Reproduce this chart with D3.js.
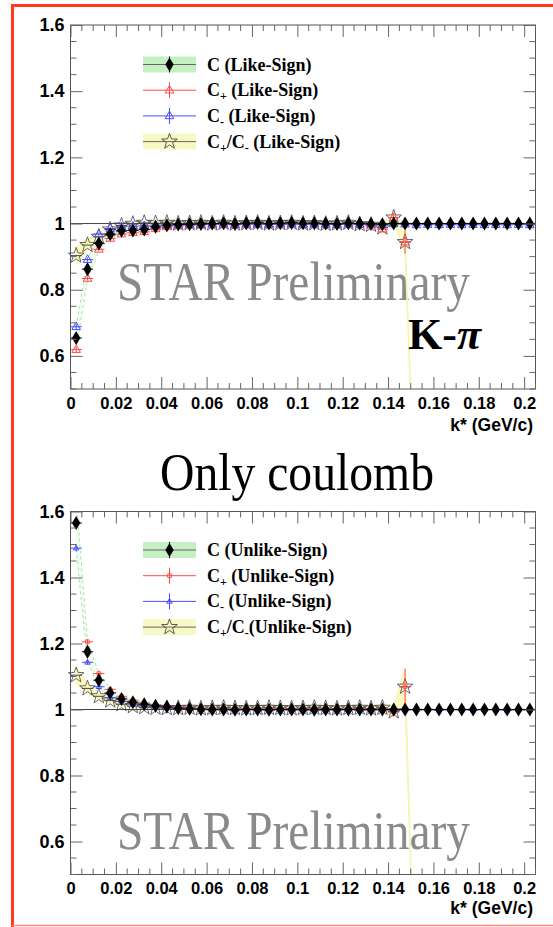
<!DOCTYPE html>
<html>
<head>
<meta charset="utf-8">
<script src="https://cdn.jsdelivr.net/npm/d3@7"></script>
<style>
  body { margin: 0; background: #fff; }
</style>
</head>
<body>
<div id="chart"></div>
<script>
// bin centres of k* (GeV/c), bin width 0.005
var kStar = [0.0025, 0.0075, 0.0125, 0.0175, 0.0225, 0.0275, 0.0325, 0.0375, 0.0425, 0.0475,
  0.0525, 0.0575, 0.0625, 0.0675, 0.0725, 0.0775, 0.0825, 0.0875, 0.0925, 0.0975,
  0.1025, 0.1075, 0.1125, 0.1175, 0.1225, 0.1275, 0.1325, 0.1375, 0.1425, 0.1475,
  0.1525, 0.1575, 0.1625, 0.1675, 0.1725, 0.1775, 0.1825, 0.1875, 0.1925, 0.1975, 0.2025];
var binHalf = 0.0025;

// ---- Like-Sign (top) ----
var likeC = [0.654, 0.862, 0.940, 0.968, 0.978, 0.979, 0.982, 0.990, 0.995, 0.997,
  0.998, 0.999, 1.000, 1.001, 0.999, 1.001, 1.002, 1.000, 1.001, 1.002,
  1.001, 1.001, 1.000, 0.999, 1.001, 1.000, 0.999, 0.998, 1.000, 1.000,
  1.000, 1.000, 1.000, 1.000, 1.000, 1.000, 1.000, 1.000, 1.000, 1.000, 1.000];
var likeCErr = [0.035, 0.030, 0.022, 0.014, 0.010, 0.009, 0.007, 0.005, 0.004, 0.003,
  0.003, 0.003, 0.003, 0.003, 0.003, 0.003, 0.003, 0.003, 0.003, 0.003,
  0.003, 0.003, 0.003, 0.003, 0.003, 0.003, 0.003, 0.004, 0.004, 0.004,
  0.002, 0.002, 0.002, 0.002, 0.002, 0.002, 0.002, 0.002, 0.002, 0.002, 0.002];
var likeCp = [0.619, 0.834, 0.922, 0.955, 0.968, 0.972, 0.975, 0.984, 0.990, 0.993,
  0.995, 0.996, 0.997, 0.998, 0.996, 0.998, 0.999, 0.998, 0.999, 0.999,
  0.998, 0.999, 0.998, 0.997, 0.999, 0.997, 0.995, 0.983, 1.018, 0.944];
var likeCpErr = [0.008, 0.006, 0.005, 0.004, 0.004, 0.003, 0.003, 0.003, 0.003, 0.003,
  0.003, 0.003, 0.003, 0.003, 0.003, 0.003, 0.003, 0.003, 0.003, 0.003,
  0.003, 0.003, 0.003, 0.003, 0.004, 0.004, 0.005, 0.007, 0.010, 0.035];
var likeCm = [0.688, 0.891, 0.968, 0.985, 0.990, 0.992, 0.993, 0.995, 0.996, 0.996,
  0.997, 0.997, 0.998, 0.998, 0.997, 0.998, 0.998, 0.997, 0.998, 0.998,
  0.997, 0.998, 0.997, 0.997, 0.998, 0.997, 0.998, 0.996, 0.999, 0.998,
  0.996, 0.997, 0.996, 0.997, 0.996, 0.997, 0.996, 0.997, 0.996, 0.997, 0.996];
var likeCmErr = [0.008, 0.006, 0.005, 0.004, 0.004, 0.003, 0.003, 0.003, 0.003, 0.003,
  0.003, 0.003, 0.003, 0.003, 0.003, 0.003, 0.003, 0.003, 0.003, 0.003,
  0.003, 0.003, 0.003, 0.003, 0.003, 0.003, 0.003, 0.003, 0.003, 0.003,
  0.003, 0.003, 0.003, 0.003, 0.003, 0.003, 0.003, 0.003, 0.003, 0.003, 0.003];
var likeRatio = [0.903, 0.935, 0.960, 0.982, 0.994, 0.999, 1.002, 1.001, 1.002, 1.000,
  1.001, 1.002, 1.000, 1.002, 1.000, 1.001, 1.002, 1.000, 1.001, 1.002,
  1.000, 1.001, 0.999, 1.000, 1.002, 0.998, 0.996, 0.988, 1.018, 0.944, 0];
var likeRatioErr = [0.025, 0.018, 0.012, 0.008, 0.006, 0.005, 0.004, 0.004, 0.004, 0.004,
  0.004, 0.004, 0.004, 0.004, 0.004, 0.004, 0.004, 0.004, 0.004, 0.004,
  0.004, 0.004, 0.004, 0.004, 0.005, 0.005, 0.006, 0.008, 0.012, 0.035, 0];

// ---- Unlike-Sign (bottom) ----
var unlikeC = [1.565, 1.175, 1.089, 1.050, 1.032, 1.022, 1.016, 1.011, 1.008, 1.004,
  1.002, 1.001, 1.000, 1.000, 0.999, 1.000, 1.000, 0.999, 1.000, 1.000,
  1.000, 0.999, 1.000, 1.000, 1.000, 1.000, 1.000, 1.000, 1.000, 1.000,
  1.000, 1.000, 1.000, 1.000, 1.000, 1.000, 1.000, 1.000, 1.000, 1.000, 1.000];
var unlikeCErr = [0.080, 0.031, 0.020, 0.014, 0.010, 0.007, 0.005, 0.004, 0.003, 0.003,
  0.003, 0.003, 0.003, 0.003, 0.003, 0.003, 0.003, 0.003, 0.003, 0.003,
  0.003, 0.003, 0.003, 0.003, 0.003, 0.003, 0.003, 0.003, 0.004, 0.004,
  0.002, 0.002, 0.002, 0.002, 0.002, 0.002, 0.002, 0.002, 0.002, 0.002, 0.002];
var unlikeCp = [1.645, 1.205, 1.109, 1.061, 1.040, 1.028, 1.020, 1.014, 1.010, 1.007,
  1.005, 1.004, 1.003, 1.003, 1.002, 1.003, 1.002, 1.002, 1.003, 1.002,
  1.002, 1.003, 1.002, 1.002, 1.003, 1.002, 1.001, 1.004, 0.992, 1.069];
var unlikeCpErr = [0.012, 0.008, 0.006, 0.005, 0.004, 0.004, 0.003, 0.003, 0.003, 0.003,
  0.003, 0.003, 0.003, 0.003, 0.003, 0.003, 0.003, 0.003, 0.003, 0.003,
  0.003, 0.003, 0.003, 0.003, 0.004, 0.004, 0.006, 0.008, 0.012, 0.055];
var unlikeCm = [1.489, 1.143, 1.069, 1.036, 1.025, 1.016, 1.011, 1.008, 1.005, 1.003,
  1.001, 1.000, 0.999, 0.999, 0.998, 0.999, 0.998, 0.998, 0.999, 0.998,
  0.998, 0.999, 0.998, 0.998, 0.999, 0.998, 0.998, 0.999, 0.998, 0.999,
  0.999, 0.999, 0.998, 0.999, 0.999, 0.998, 0.999, 0.999, 0.998, 0.999, 0.999];
var unlikeCmErr = [0.010, 0.007, 0.005, 0.004, 0.004, 0.003, 0.003, 0.003, 0.003, 0.003,
  0.003, 0.003, 0.003, 0.003, 0.003, 0.003, 0.003, 0.003, 0.003, 0.003,
  0.003, 0.003, 0.003, 0.003, 0.003, 0.003, 0.003, 0.003, 0.003, 0.003,
  0.003, 0.003, 0.003, 0.003, 0.003, 0.003, 0.003, 0.003, 0.003, 0.003, 0.003];
var unlikeRatio = [1.104, 1.064, 1.040, 1.027, 1.016, 1.010, 1.007, 1.005, 1.004, 1.004,
  1.005, 1.003, 1.004, 1.005, 1.004, 1.003, 1.004, 1.005, 1.004, 1.003,
  1.004, 1.005, 1.004, 1.003, 1.004, 1.005, 1.003, 1.005, 0.994, 1.069, 0];
var unlikeRatioErr = [0.025, 0.015, 0.010, 0.008, 0.006, 0.005, 0.004, 0.004, 0.004, 0.004,
  0.004, 0.004, 0.004, 0.004, 0.004, 0.004, 0.004, 0.004, 0.004, 0.004,
  0.004, 0.004, 0.004, 0.004, 0.005, 0.005, 0.006, 0.010, 0.015, 0.055, 0];

var width = 553, height = 927;
var svg = d3.select("#chart").append("svg")
  .attr("width", width)
  .attr("height", height)
  .style("display", "block");

// red slide frame
svg.append("path")
  .attr("d", "M12.5,927V5.5H560")
  .attr("fill", "none")
  .attr("stroke", "#ff3a1a")
  .attr("stroke-width", 3);
svg.append("line")
  .attr("x1", 12).attr("x2", 553).attr("y1", 925.5).attr("y2", 925.5)
  .attr("stroke", "#ff8a7a").attr("stroke-width", 1.5);

var x = d3.scaleLinear().domain([0, 0.205]).range([70.5, 535.5]);

// marker shapes
function starPath(R, r) {
  var p = [];
  for (var i = 0; i < 10; i++) {
    var a = -Math.PI / 2 + i * Math.PI / 5;
    var rad = i % 2 === 0 ? R : r;
    p.push([rad * Math.cos(a), rad * Math.sin(a)]);
  }
  return "M" + p.map(function(d) { return d[0].toFixed(2) + "," + d[1].toFixed(2); }).join("L") + "Z";
}
var diamond = "M0,-7L4.2,0L0,7L-4.2,0Z";
var triBig = "M0,-4.8L4.3,2.8L-4.3,2.8Z";
var triSmall = "M0,-3L2.7,1.8L-2.7,1.8Z";
var circSmall = d3.symbol().type(d3.symbolCircle).size(16)();
var star = starPath(8.2, 3.3);

var red = "#ff4a4a", blue = "#4a4aff";
var serif = "'Liberation Serif', 'DejaVu Serif', serif";
var axisFont = "'Liberation Sans', Arial, sans-serif";

var panels = [
  { id: "like", top: 25, bottom: 389, sign: "Like-Sign", ratioSep: " ",
    c: likeC, cErr: likeCErr, cp: likeCp, cpErr: likeCpErr, cm: likeCm, cmErr: likeCmErr,
    ratio: likeRatio, ratioErr: likeRatioErr,
    cpMarker: triBig, cmMarker: triBig, legendY: 64.5, prelimY: 300, titleY: 431 },
  { id: "unlike", top: 511.5, bottom: 874.5, sign: "Unlike-Sign", ratioSep: "",
    c: unlikeC, cErr: unlikeCErr, cp: unlikeCp, cpErr: unlikeCpErr, cm: unlikeCm, cmErr: unlikeCmErr,
    ratio: unlikeRatio, ratioErr: unlikeRatioErr,
    cpMarker: circSmall, cmMarker: triSmall, legendY: 550, prelimY: 849, titleY: 914 }
];

panels.forEach(function(p) {
  var y = d3.scaleLinear().domain([0.5, 1.6]).range([p.bottom, p.top]);
  var g = svg.append("g");

  g.append("clipPath").attr("id", "clip-" + p.id)
    .append("rect")
    .attr("x", x.range()[0]).attr("y", p.top)
    .attr("width", x.range()[1] - x.range()[0])
    .attr("height", p.bottom - p.top);

  var inside = function(v) { return v >= 0.5 && v <= 1.6; };

  // STAR Preliminary watermark
  g.append("text")
    .attr("x", 117).attr("y", p.prelimY)
    .attr("textLength", 353).attr("lengthAdjust", "spacingAndGlyphs")
    .style("font-family", serif)
    .style("font-size", "55px")
    .style("fill", "#8a8a8a")
    .text("STAR Preliminary");

  var plot = g.append("g").attr("clip-path", "url(#clip-" + p.id + ")");

  // C band (green)
  var cPts = kStar.map(function(k, i) { return { k: k, v: p.c[i], e: p.cErr[i] }; });
  plot.append("path")
    .datum(cPts)
    .attr("fill", "#9be89b").attr("fill-opacity", 0.15)
    .attr("d", d3.area()
      .x(function(d) { return x(d.k); })
      .y0(function(d) { return y(d.v - d.e); })
      .y1(function(d) { return y(d.v + d.e); }));
  [-1, 1].forEach(function(s) {
    plot.append("path")
      .datum(cPts)
      .attr("fill", "none").attr("stroke", "#a8e4a8").attr("stroke-width", 1)
      .attr("stroke-dasharray", "3,3")
      .attr("d", d3.line()
        .x(function(d) { return x(d.k); })
        .y(function(d) { return y(d.v + s * d.e); }));
  });

  // ratio band (yellow)
  var rPts = p.ratio.map(function(v, i) { return { k: kStar[i], v: v, e: p.ratioErr[i] }; });
  plot.append("path")
    .datum(rPts)
    .attr("fill", "#fbf8a8").attr("fill-opacity", 0.75)
    .attr("stroke", "#f6f2b0").attr("stroke-width", 1)
    .attr("d", d3.area()
      .x(function(d) { return x(d.k); })
      .y0(function(d) { return y(d.v - d.e); })
      .y1(function(d) { return y(d.v + d.e); }));

  // reference line at 1
  g.append("line")
    .attr("x1", x.range()[0]).attr("x2", x.range()[1])
    .attr("y1", y(1)).attr("y2", y(1))
    .attr("stroke", "#444").attr("stroke-width", 1);

  function drawSeries(vals, errs, color, marker, fill, sw, vbars) {
    var pts = vals.map(function(v, i) { return { k: kStar[i], v: v, e: errs ? errs[i] : 0 }; })
      .filter(function(d) { return inside(d.v); });
    var sg = g.append("g");
    sg.selectAll("line.h").data(pts).enter().append("line")
      .attr("x1", function(d) { return x(d.k - binHalf); })
      .attr("x2", function(d) { return x(d.k + binHalf); })
      .attr("y1", function(d) { return y(d.v); })
      .attr("y2", function(d) { return y(d.v); })
      .attr("stroke", color).attr("stroke-width", 1);
    if (vbars) {
      sg.selectAll("line.v").data(pts).enter().append("line")
        .attr("x1", function(d) { return x(d.k); })
        .attr("x2", function(d) { return x(d.k); })
        .attr("y1", function(d) { return y(d.v - d.e); })
        .attr("y2", function(d) { return y(d.v + d.e); })
        .attr("stroke", color).attr("stroke-width", 1);
    }
    sg.selectAll("path").data(pts).enter().append("path")
      .attr("d", marker)
      .attr("transform", function(d) { return "translate(" + x(d.k) + "," + y(d.v) + ")"; })
      .attr("fill", fill)
      .attr("stroke", fill === "none" ? color : "none")
      .attr("stroke-width", sw);
  }

  drawSeries(p.ratio, p.ratioErr, "#444", star, "none", 0.8, false);
  drawSeries(p.cp, p.cpErr, red, p.cpMarker, "none", 1, true);
  drawSeries(p.cm, p.cmErr, blue, p.cmMarker, "none", 1, true);
  drawSeries(p.c, null, "#000", diamond, "#000", 0, false);

  // frame
  g.append("rect")
    .attr("x", x.range()[0]).attr("y", p.top)
    .attr("width", x.range()[1] - x.range()[0])
    .attr("height", p.bottom - p.top)
    .attr("fill", "none").attr("stroke", "#555").attr("stroke-width", 1);

  // axes with ROOT style inner ticks
  var xMajor = x.ticks(10);
  var xMinor = x.ticks(40).filter(function(t) { return xMajor.indexOf(t) < 0; });
  var yMajor = y.ticks(6);
  var yMinor = y.ticks(22).filter(function(t) { return yMajor.indexOf(t) < 0; });

  var xb = g.append("g").attr("transform", "translate(0," + p.bottom + ")")
    .call(d3.axisBottom(x).tickValues(xMajor).tickSize(-12).tickPadding(8)
      .tickFormat(function(d) { return String(+d.toFixed(3)); }));
  xb.append("g").selectAll("line").data(xMinor).enter().append("line")
    .attr("x1", function(d) { return x(d); }).attr("x2", function(d) { return x(d); })
    .attr("y1", 0).attr("y2", -6);
  var xt = g.append("g").attr("transform", "translate(0," + p.top + ")")
    .call(d3.axisTop(x).tickValues(xMajor).tickSize(-12).tickFormat(""));
  xt.append("g").selectAll("line").data(xMinor).enter().append("line")
    .attr("x1", function(d) { return x(d); }).attr("x2", function(d) { return x(d); })
    .attr("y1", 0).attr("y2", 6);

  var yl = g.append("g").attr("transform", "translate(" + x.range()[0] + ",0)")
    .call(d3.axisLeft(y).tickValues(yMajor).tickSize(-12).tickPadding(6)
      .tickFormat(function(d) { return String(+d.toFixed(2)); }));
  yl.append("g").selectAll("line").data(yMinor).enter().append("line")
    .attr("y1", function(d) { return y(d); }).attr("y2", function(d) { return y(d); })
    .attr("x1", 0).attr("x2", 6);
  var yr = g.append("g").attr("transform", "translate(" + x.range()[1] + ",0)")
    .call(d3.axisRight(y).tickValues(yMajor).tickSize(-12).tickFormat(""));
  yr.append("g").selectAll("line").data(yMinor).enter().append("line")
    .attr("y1", function(d) { return y(d); }).attr("y2", function(d) { return y(d); })
    .attr("x1", 0).attr("x2", -6);

  [xb, xt, yl, yr].forEach(function(a) {
    a.select(".domain").remove();
    a.selectAll("line").attr("stroke", "#666");
  });
  xb.selectAll("text").style("font-family", axisFont).style("font-weight", "bold")
    .style("font-size", "16.5px").attr("fill", "#000");
  yl.selectAll("text").style("font-family", axisFont).style("font-weight", "bold")
    .style("font-size", "18px").attr("fill", "#000");

  g.append("text")
    .attr("x", 533).attr("y", p.titleY)
    .attr("text-anchor", "end")
    .style("font-family", axisFont).style("font-weight", "bold").style("font-size", "17.5px")
    .text("k* (GeV/c)");

  // legend
  var legend = [
    { parts: [["C"]], box: "#c4f0c4", line: "#666", marker: diamond, color: "#000", fill: "#000" },
    { parts: [["C"], ["+", "sub"]], box: null, line: red, marker: p.cpMarker, color: red, fill: "none" },
    { parts: [["C"], ["-", "sub"]], box: null, line: blue, marker: p.cmMarker, color: blue, fill: "none" },
    { parts: [["C"], ["+", "sub"], ["/C"], ["-", "sub"]], box: "#f8f8c4", line: "#666", marker: star, color: "#333", fill: "none", sep: p.ratioSep }
  ];
  var lx0 = 143, lx1 = 196, step = 25.7;
  legend.forEach(function(e, i) {
    var cy = p.legendY + i * step;
    var lg = g.append("g");
    if (e.box) {
      lg.append("rect").attr("x", lx0).attr("y", cy - 8).attr("width", lx1 - lx0).attr("height", 16)
        .attr("fill", e.box);
    }
    lg.append("line").attr("x1", lx0).attr("x2", lx1).attr("y1", cy).attr("y2", cy)
      .attr("stroke", e.line).attr("stroke-width", 1);
    if (e.marker !== star) {
      lg.append("line").attr("x1", (lx0 + lx1) / 2).attr("x2", (lx0 + lx1) / 2)
        .attr("y1", cy - 8).attr("y2", cy + 8)
        .attr("stroke", e.color).attr("stroke-width", 1);
    }
    lg.append("path").attr("d", e.marker)
      .attr("transform", "translate(" + (lx0 + lx1) / 2 + "," + cy + ")")
      .attr("fill", e.fill)
      .attr("stroke", e.fill === "none" ? e.color : "none")
      .attr("stroke-width", e.marker === star ? 0.8 : 1);
    var t = lg.append("text").attr("x", 207).attr("y", cy + 6)
      .style("font-family", serif)
      .style("font-weight", "bold").style("font-size", "18px");
    var shift = 0;
    var parts = e.parts.concat([[(e.sep !== undefined ? e.sep : " ") + "(" + p.sign + ")"]]);
    parts.forEach(function(pt) {
      var sub = pt[1] === "sub";
      var target = sub ? 4 : 0;
      var ts = t.append("tspan").attr("dy", target - shift).text(pt[0]);
      if (sub) ts.style("font-size", "12px");
      shift = target;
    });
  });
});

// slide annotations
svg.append("text")
  .attr("x", 297).attr("y", 490)
  .attr("text-anchor", "middle")
  .attr("textLength", 274).attr("lengthAdjust", "spacingAndGlyphs")
  .style("font-family", serif)
  .style("font-size", "53px")
  .text("Only coulomb");

var kpi = svg.append("text")
  .attr("x", 408).attr("y", 349)
  .style("font-family", serif)
  .style("font-weight", "bold")
  .style("font-size", "44px");
kpi.append("tspan").text("K-");
kpi.append("tspan").style("font-style", "italic").text("π");
</script>
</body>
</html>
